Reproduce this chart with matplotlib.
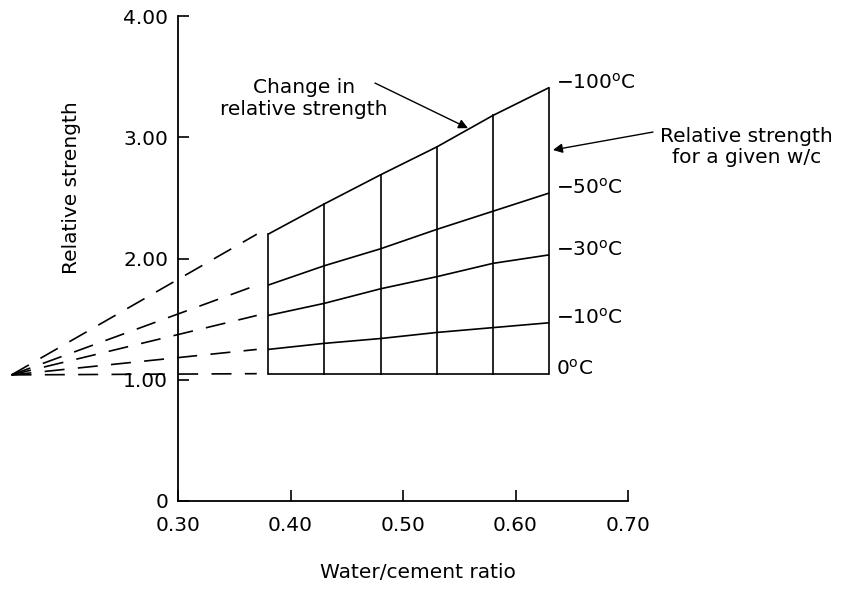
import matplotlib
matplotlib.use("Agg")
import matplotlib.pyplot as plt

plt.rcParams['font.family'] = ['DejaVu Sans']
plt.rcParams['mathtext.fontset'] = 'dejavusans'

# water/cement ratios of the grid columns
wc = [0.38, 0.43, 0.48, 0.53, 0.58, 0.63]

# relative strength curves for each curing temperature
temp_labels = [r'$-100^{\rm o}$C', r'$-50^{\rm o}$C', r'$-30^{\rm o}$C', r'$-10^{\rm o}$C', r'$0^{\rm o}$C']
strength_m100 = [2.20, 2.45, 2.69, 2.92, 3.18, 3.41]
strength_m50 = [1.78, 1.94, 2.08, 2.24, 2.39, 2.54]
strength_m30 = [1.53, 1.63, 1.75, 1.85, 1.96, 2.03]
strength_m10 = [1.25, 1.30, 1.34, 1.39, 1.43, 1.47]
strength_0 = [1.05, 1.05, 1.05, 1.05, 1.05, 1.05]
curves = [strength_m100, strength_m50, strength_m30, strength_m10, strength_0]

# extrapolation: all curves meet at one point on the left
apex_wc, apex_strength = 0.152, 1.04
dash_end_wc = 0.37

xticks = [0.30, 0.40, 0.50, 0.60, 0.70]
xticklabels = ['0.30', '0.40', '0.50', '0.60', '0.70']
yticks = [0, 1, 2, 3, 4]
yticklabels = ['0', '1.00', '2.00', '3.00', '4.00']

fig = plt.figure(figsize=(8.6, 5.9), dpi=100)
ax = fig.add_axes([178 / 860, 89 / 590, 450 / 860, 485 / 590])
ax.set_xlim(0.3, 0.7)
ax.set_ylim(0, 4)

fs = 14.5
lw = 1.2
# temperature curves
for vals, lab in zip(curves, temp_labels):
    ax.plot(wc, vals, color='black', lw=lw, solid_capstyle='butt')
    ax.plot([apex_wc, dash_end_wc], [apex_strength, vals[0]], color='black',
            lw=lw, linestyle=(0, (12, 8)), clip_on=False)
    ax.annotate(lab, xy=(wc[-1], vals[-1] + 0.04), xytext=(5, 0),
                textcoords='offset points', ha='left', va='center', fontsize=fs)

# vertical grid lines (one per w/c)
for i, x in enumerate(wc):
    ax.plot([x, x], [strength_0[i], strength_m100[i]], color='black', lw=lw)

# annotations
ax.text(0.412, 3.32, 'Change in\nrelative strength', ha='center', va='center',
        fontsize=fs, linespacing=1.15)
ax.annotate('', xy=(0.5578, 3.075), xytext=(0.4751, 3.447),
            arrowprops=dict(arrowstyle='-|>', color='black', lw=1.0,
                            mutation_scale=14, shrinkA=0, shrinkB=0))
ax.text(0.805, 2.92, 'Relative strength\nfor a given w/c', ha='center', va='center',
        fontsize=fs, linespacing=1.15, clip_on=False)
ax.annotate('', xy=(0.6333, 2.895), xytext=(0.7222, 3.043),
            arrowprops=dict(arrowstyle='-|>', color='black', lw=1.0,
                            mutation_scale=14, shrinkA=0, shrinkB=0))

# axes styling
for s in ['top', 'right']:
    ax.spines[s].set_visible(False)
ax.spines['left'].set_bounds(0, 4)
ax.spines['bottom'].set_bounds(0.3, 0.7)
for s in ['left', 'bottom']:
    ax.spines[s].set_linewidth(1.3)
ax.set_xticks(xticks)
ax.set_xticklabels(xticklabels)
ax.set_yticks(yticks)
ax.set_yticklabels(yticklabels)
ax.tick_params(axis='both', direction='in', length=8, width=1.2, labelsize=fs)
ax.tick_params(axis='x', pad=11)
ax.tick_params(axis='y', pad=7)

ax.text(-0.236, 0.647, 'Relative strength', rotation=90, ha='center', va='center',
        fontsize=fs, transform=ax.transAxes)
ax.text(0.533, -0.148, 'Water/cement ratio', ha='center', va='center',
        fontsize=fs, transform=ax.transAxes)

fig.savefig('out.png', dpi=100)
